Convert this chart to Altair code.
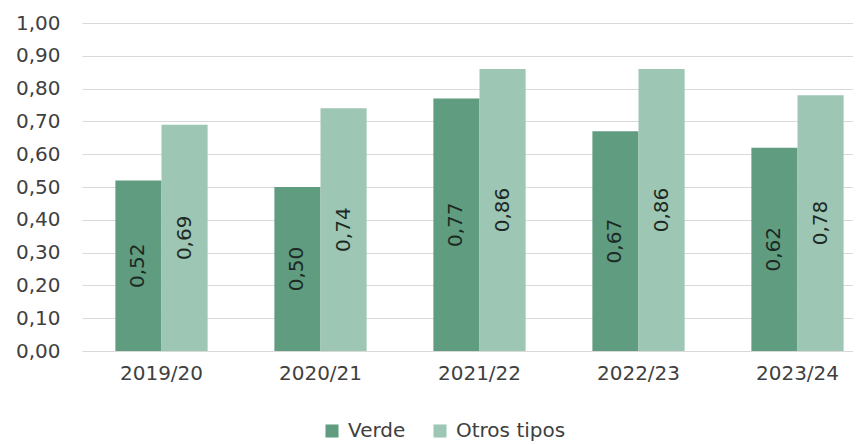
import altair as alt
import pandas as pd

years = ["2019/20", "2020/21", "2021/22", "2022/23", "2023/24"]
series = ["Verde", "Otros tipos"]
verde = [0.52, 0.50, 0.77, 0.67, 0.62]
otros = [0.69, 0.74, 0.86, 0.86, 0.78]
colors = ["#5f9c80", "#9dc6b5"]
yticks = [0.0, 0.1, 0.2, 0.3, 0.4, 0.5, 0.6, 0.7, 0.8, 0.9, 1.0]

rows = []
for i, y in enumerate(years):
    rows.append({"year": y, "serie": series[0], "value": verde[i]})
    rows.append({"year": y, "serie": series[1], "value": otros[i]})
df = pd.DataFrame(rows)
df["label"] = df["value"].map(lambda v: f"{v:.2f}".replace(".", ","))
df["mid"] = df["value"] / 2

FONT = "DejaVu Sans"

x = alt.X("year:N", sort=years, title=None,
          scale=alt.Scale(range=[0, 795], paddingInner=0.42, paddingOuter=0.21),
          axis=alt.Axis(labelAngle=0, domain=False, ticks=False, labelPadding=12,
                        labelFont=FONT, labelFontSize=20, labelColor="#404040"))
xo = alt.XOffset("serie:N", sort=series, scale=alt.Scale(paddingInner=0, paddingOuter=0))

yaxis = alt.Axis(values=yticks, labelExpr="replace(format(datum.value, '.2f'), '.', ',')",
                 domain=False, ticks=False, labelPadding=22, gridColor="#d9d9d9",
                 labelOverlap=False, labelBound=False,
                 labelFont=FONT, labelFontSize=20, labelColor="#404040")
yscale = alt.Scale(domain=[0, 1], nice=False)

bars = alt.Chart(df).mark_bar().encode(
    x=x,
    xOffset=xo,
    y=alt.Y("value:Q", title=None, scale=yscale, axis=yaxis),
    color=alt.Color("serie:N", sort=series, title=None,
                    scale=alt.Scale(domain=series, range=colors),
                    legend=alt.Legend(orient="none", legendX=240, legendY=398, direction="horizontal",
                                      symbolType="square", symbolSize=170, symbolStrokeWidth=0,
                                      labelFont=FONT, labelFontSize=20, labelColor="#404040",
                                      columnPadding=24, labelOffset=6)),
)

labels = alt.Chart(df).mark_text(angle=270, align="center", baseline="middle",
                                 font=FONT, fontSize=20, color="#1c2a23").encode(
    x=x,
    xOffset=xo,
    y=alt.Y("mid:Q", title=None, scale=yscale, axis=yaxis),
    text="label:N",
)

chart = (bars + labels).properties(
    width=771, height=328,
    padding={"left": 74, "top": 15, "right": 0, "bottom": 90},
    autosize=alt.AutoSizeParams(type="none"),
).configure_view(stroke=None)

chart.save("out.html", embed_options={"renderer": "svg", "actions": False})
